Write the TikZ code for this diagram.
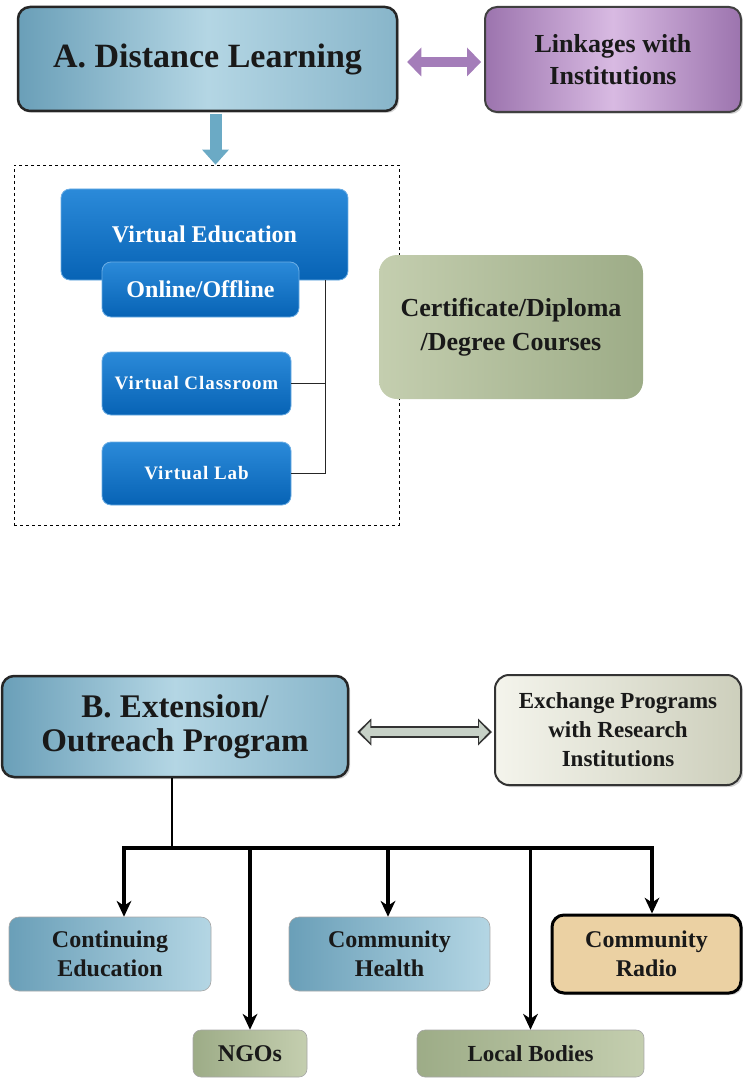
\documentclass[tikz,border=0pt]{standalone}
\usepackage{fontspec}
\setmainfont{Liberation Serif}
\usetikzlibrary{arrows.meta,shadows}

\definecolor{steelA}{HTML}{6A9FB8}
\definecolor{steelB}{HTML}{B4D6E4}
\definecolor{lilacA}{HTML}{9C74AE}
\definecolor{lilacB}{HTML}{D8BAE2}
\definecolor{lilacarrow}{HTML}{A47DB9}
\definecolor{vblueA}{HTML}{2B8AD9}
\definecolor{vblueB}{HTML}{0763B5}
\definecolor{sageA}{HTML}{9DAC87}
\definecolor{sageB}{HTML}{C4CEAF}
\definecolor{creamA}{HTML}{F4F4EC}
\definecolor{creamB}{HTML}{CDCFBC}
\definecolor{sand}{HTML}{EBD1A3}
\definecolor{mint}{HTML}{C7D1C7}
\definecolor{skyarrow}{HTML}{6BAAC5}

\begin{document}
\begin{tikzpicture}[x=1pt, y=-1pt,
  box/.style={rounded corners=10pt, inner sep=0pt, align=center, text=black!90},
  shadowed/.style={drop shadow={opacity=0.35, shadow xshift=2pt, shadow yshift=-2pt}},
  headbox/.style={box, shadowed, draw=black!85, line width=2.5pt, rounded corners=12pt,
    left color=steelA, right color=steelA!60!steelB, middle color=steelB, font=\bfseries\fontsize{34}{34}\selectfont},
  vbox/.style={box, rounded corners=9pt, draw=vblueA!70!white, line width=0.8pt,
    top color=vblueA, bottom color=vblueB, text=white, font=\bfseries\fontsize{24}{24}\selectfont},
  smallv/.style={vbox, minimum width=189, minimum height=63,
    font=\bfseries\fontsize{19}{19}\selectfont\addfontfeature{LetterSpace=5}},
  lowbox/.style={box, draw=black!35, line width=0.6pt, font=\bfseries\fontsize{24}{29}\selectfont},
  droparrow/.style={line width=3.2pt, -{Stealth[length=16pt,width=15pt,inset=5pt,line width=0pt]}}
]
  \useasboundingbox (0,0) rectangle (743,1078);

  % A. Distance learning and its linkage
  \node[headbox, minimum width=379, minimum height=104] (A) at (207.5,59) {A. Distance Learning};
  \node[box, shadowed, draw=black!75, line width=2pt, rounded corners=12pt,
    left color=lilacA, right color=lilacA, middle color=lilacB,
    minimum width=256, minimum height=105, font=\bfseries\fontsize{26}{32}\selectfont] (L) at (613,59.5) {Linkages with\\Institutions};
  \draw[lilacarrow, line width=10pt, shorten <=9pt, shorten >=3pt,
    {Triangle[width=29pt,length=14pt,line width=0pt]}-{Triangle[width=29pt,length=14pt,line width=0pt]}]
    ([yshift=-3pt]A.east) -- ([yshift=-3pt]A.east -| L.west);

  % dashed frame with the virtual blocks
  \node[draw, dashed, line width=0.8pt, inner sep=0pt, minimum width=385, minimum height=360] (frame) at (206.5,345) {};
  \draw[skyarrow, line width=12pt, shorten <=1.5pt, -{Triangle[width=27pt,length=15pt,line width=0pt]}]
    ([xshift=8pt]A.south) -- ([xshift=8pt]A.south |- frame.north);

  \node[vbox, minimum width=287, minimum height=91] (VE) at (204.5,234.5) {Virtual Education};
  \node[vbox, minimum width=197, minimum height=55] (OO) at (200.5,289.5) {Online/Offline};
  \node[smallv] (VC) at (196.5,383.5) {Virtual Classroom};
  \node[smallv] (VL) at (196.5,473.5) {Virtual Lab};

  \coordinate (vjoin) at ([xshift=-23pt]VE.south east);
  \draw[line width=1.3pt, black!85] (vjoin) |- (VL.east);
  \draw[line width=1.3pt, black!85] (VC.east) -- (VC.east -| vjoin);

  \node[box, rounded corners=18pt, left color=sageB, right color=sageA,
    minimum width=264, minimum height=144, font=\bfseries\fontsize{26}{34}\selectfont] (CD) at (511,327) {Certificate/Diploma\\/Degree Courses};

  % B. Extension / outreach
  \node[headbox, minimum width=346, minimum height=101, font=\bfseries\fontsize{33}{34}\selectfont] (B) at (175,726.5) {B. Extension/\\Outreach Program};
  \node[box, shadowed, draw=black!80, line width=2pt, rounded corners=14pt, left color=creamA, right color=creamB,
    minimum width=246, minimum height=110, font=\bfseries\fontsize{23}{29}\selectfont] (X) at (618,730) {Exchange Programs\\with Research\\Institutions};
  \draw[black!80, line width=12pt, shorten <=8pt, shorten >=2pt,
    {Triangle[width=27pt,length=14pt,line width=0pt]}-{Triangle[width=27pt,length=14pt,line width=0pt]}]
    ([yshift=-5.5pt]B.east) -- ([yshift=-5.5pt]B.east -| X.west);
  \draw[mint, line width=8pt, shorten <=11pt, shorten >=5pt,
    {Triangle[width=21pt,length=10pt,line width=0pt]}-{Triangle[width=21pt,length=10pt,line width=0pt]}]
    ([yshift=-5.5pt]B.east) -- ([yshift=-5.5pt]B.east -| X.west);

  \node[lowbox, left color=steelA, right color=steelB, minimum width=202, minimum height=74] (CE) at (110,954) {Continuing\\Education};
  \node[lowbox, left color=steelA, right color=steelB, minimum width=201, minimum height=74] (CH) at (389.5,954) {Community\\Health};
  \node[lowbox, shadowed, fill=sand, draw=black, line width=3pt, rounded corners=12pt,
    minimum width=189, minimum height=78] (CR) at (646.5,954) {Community\\Radio};
  \node[lowbox, left color=sageA, right color=sageB, rounded corners=8pt, minimum width=114, minimum height=47] (NG) at (250,1053.5) {NGOs};
  \node[lowbox, left color=sageA, right color=sageB, rounded corners=8pt, minimum width=227, minimum height=47,
    font=\bfseries\fontsize{23}{29}\selectfont] (LB) at (530.5,1053.5) {Local Bodies};

  % tree of arrows
  \coordinate (bus) at (0,848);
  \coordinate (t1) at ([xshift=14pt]CE.north);
  \coordinate (t2) at (NG.north);
  \coordinate (t3) at ([xshift=-1.5pt]CH.north);
  \coordinate (t4) at (LB.north);
  \coordinate (t5) at ([xshift=5.5pt]CR.north);
  \draw[line width=1.3pt] ([xshift=-3pt]B.south) -- ([xshift=-3pt]B.south |- bus);
  \draw[line width=3.2pt, line cap=rect] (t1 |- bus) -- (t5 |- bus);
  \foreach \drop in {t1,t2,t3,t4,t5}
    \draw[droparrow] (\drop |- bus) -- (\drop);
\end{tikzpicture}
\end{document}
